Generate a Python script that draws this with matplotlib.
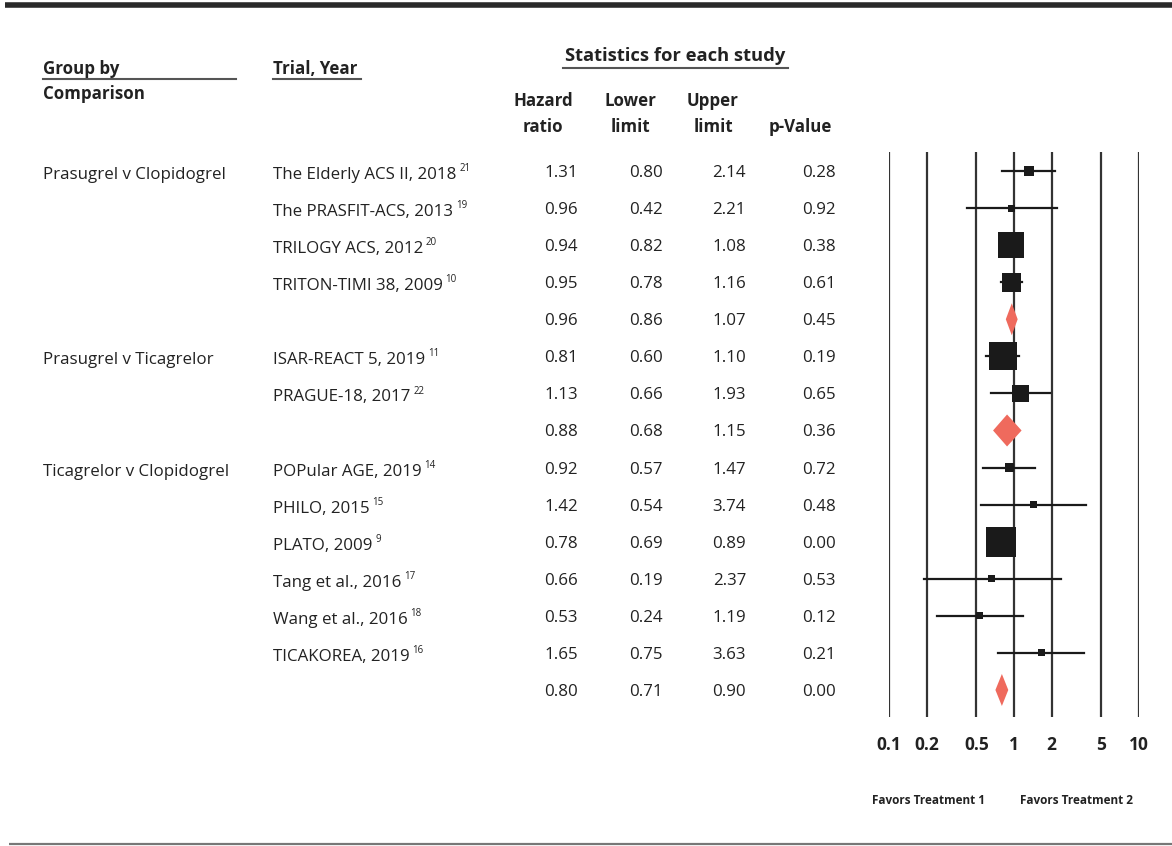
import numpy as np
import matplotlib
matplotlib.use("Agg")
import matplotlib.pyplot as plt
from matplotlib.patches import Polygon

plt.rcParams['font.family'] = ['Open Sans', 'DejaVu Sans']

# -----------------------------
# Study data
# -----------------------------
groups = ["Prasugrel v Clopidogrel", "", "", "", "",
          "Prasugrel v Ticagrelor", "", "",
          "Ticagrelor v Clopidogrel", "", "", "", "", "", ""]
trials = ["The Elderly ACS II, 2018", "The PRASFIT-ACS, 2013", "TRILOGY ACS, 2012",
          "TRITON-TIMI 38, 2009", "",
          "ISAR-REACT 5, 2019", "PRAGUE-18, 2017", "",
          "POPular AGE, 2019", "PHILO, 2015", "PLATO, 2009", "Tang et al., 2016",
          "Wang et al., 2016", "TICAKOREA, 2019", ""]
refs = ["21", "19", "20", "10", "", "11", "22", "", "14", "15", "9", "17", "18", "16", ""]
hazard = [1.31, 0.96, 0.94, 0.95, 0.96, 0.81, 1.13, 0.88, 0.92, 1.42, 0.78, 0.66, 0.53, 1.65, 0.80]
lower = [0.80, 0.42, 0.82, 0.78, 0.86, 0.60, 0.66, 0.68, 0.57, 0.54, 0.69, 0.19, 0.24, 0.75, 0.71]
upper = [2.14, 2.21, 1.08, 1.16, 1.07, 1.10, 1.93, 1.15, 1.47, 3.74, 0.89, 2.37, 1.19, 3.63, 0.90]
pvals = [0.28, 0.92, 0.38, 0.61, 0.45, 0.19, 0.65, 0.36, 0.72, 0.48, 0.00, 0.53, 0.12, 0.21, 0.00]
summary = [False, False, False, False, True, False, False, True,
           False, False, False, False, False, False, True]
# relative study weights (marker side)
weights = [10, 7, 26, 19, 0, 28, 17, 0, 9, 7, 30, 7, 7, 7, 0]

ticks = [0.1, 0.2, 0.5, 1, 2, 5, 10]
tick_labels = ["0.1", "0.2", "0.5", "1", "2", "5", "10"]

W, H = 1172, 846
fig = plt.figure(figsize=(W / 100, H / 100), dpi=100)

# text layer in pixel coordinates
ax = fig.add_axes([0, 0, 1, 1])
ax.set_xlim(0, W)
ax.set_ylim(H, 0)
ax.axis("off")

# forest plot layer, log x
fax = fig.add_axes([889 / W, 0, 250 / W, 1])
fax.set_xscale("log")
fax.set_xlim(0.1, 10)
fax.set_ylim(H, 0)
fax.axis("off")
fax.patch.set_alpha(0)

txt = "#222222"
fs = 12.2

# rules
ax.plot([5, W], [5, 5], color="#2a2a2a", lw=4, solid_capstyle="butt")
ax.plot([9, W], [844, 844], color="#777777", lw=1.6, solid_capstyle="butt")

# headers
ax.text(43, 69, "Group by", fontsize=fs, fontweight="bold", color=txt, va="center")
ax.plot([43, 236], [79, 79], color="#555555", lw=1.5)
ax.text(43, 94, "Comparison", fontsize=fs, fontweight="bold", color=txt, va="center")
ax.text(273, 69, "Trial, Year", fontsize=fs, fontweight="bold", color=txt, va="center")
ax.plot([273, 361], [79, 79], color="#555555", lw=1.5)
ax.text(675, 56, "Statistics for each study", fontsize=13.2, fontweight="bold",
        color=txt, va="center", ha="center")
ax.plot([563, 788], [68, 68], color="#555555", lw=1.5)

col_centers = [543, 630, 713, 800]
col_right = [578, 663, 746, 836]
heads = [("Hazard", "ratio"), ("Lower", "limit"), ("Upper", "limit"), ("", "p-Value")]
for cx, (h1, h2) in zip(col_centers, heads):
    if h1:
        ax.text(cx, 101, h1, fontsize=fs, fontweight="bold", color=txt, ha="center", va="center")
    ax.text(cx, 127, h2, fontsize=fs, fontweight="bold", color=txt, ha="center", va="center")

# rows
y0, dy = 171, 37.07
rows_y = [y0 + i * dy for i in range(len(trials))]

for i, y in enumerate(rows_y):
    if groups[i]:
        ax.text(43, y + 4, groups[i], fontsize=fs, color=txt, va="center")
    if trials[i]:
        t = ax.text(273, y + 4, trials[i], fontsize=fs, color=txt, va="center")
        ax.annotate(refs[i], xy=(1, 0.9), xycoords=t, xytext=(2, 0),
                    textcoords="offset points", fontsize=7, color=txt, va="center")
    vals = [hazard[i], lower[i], upper[i], pvals[i]]
    for xr, v in zip(col_right, vals):
        ax.text(xr, y + 2, f"{v:.2f}", fontsize=fs, color=txt, ha="right", va="center")

# forest plot grid lines
fax.vlines(ticks, 152, 717, color="#333333", lw=1.6)
for t, lab in zip(ticks, tick_labels):
    fax.text(t, 745, lab, fontsize=12.5, fontweight="bold", color=txt, ha="center", va="center")

for i, y in enumerate(rows_y):
    if summary[i]:
        dh = 16
        poly = Polygon([(lower[i], y), (hazard[i], y - dh), (upper[i], y), (hazard[i], y + dh)],
                       closed=True, facecolor="#ef6a5d", edgecolor="none", zorder=4)
        fax.add_patch(poly)
    else:
        fax.plot([lower[i], upper[i]], [y, y], color="#1a1a1a", lw=1.6, zorder=3)
        side = weights[i] * 0.72
        fax.scatter([hazard[i]], [y], marker="s", s=side ** 2, color="#1a1a1a",
                    edgecolors="none", zorder=4)

ax.text(928, 801, "Favors Treatment 1", fontsize=8.5, fontweight="bold", color=txt,
        ha="center", va="center")
ax.text(1076, 801, "Favors Treatment 2", fontsize=8.5, fontweight="bold", color=txt,
        ha="center", va="center")

fig.savefig("out.png", dpi=100)
